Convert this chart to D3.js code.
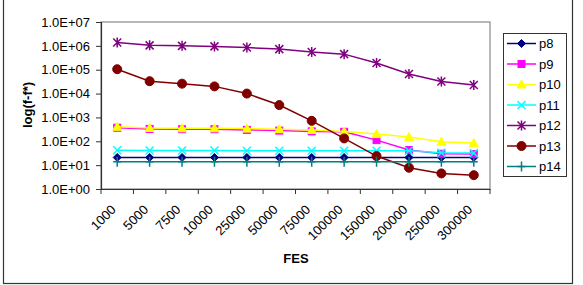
<!DOCTYPE html>
<html>
<head>
<meta charset="utf-8">
<script src="https://cdn.jsdelivr.net/npm/d3@7"></script>
<style>
  body { margin: 0; background: #fff; }
  text { font-family: "Liberation Sans", Arial, sans-serif; }
</style>
</head>
<body>
<svg id="chart" width="583" height="285"></svg>
<script>
const fesLabels = ["1000", "5000", "7500", "10000", "25000", "50000", "75000",
  "100000", "150000", "200000", "250000", "300000"];

const p8 = [21, 21, 21, 21, 21, 21, 21, 21, 21, 21, 21, 21];
const p9 = [370, 330, 320, 320, 300, 280, 260, 250, 112, 43, 30, 29];
const p10 = [405, 360, 350, 350, 340, 320, 300, 260, 200, 150, 95, 84];
const p11 = [42, 41, 41, 41, 40, 40, 40, 40, 40, 40, 33, 32];
const p12 = [1380000, 1050000, 1000000, 950000, 850000, 730000, 550000, 450000, 190000, 66000, 32000, 23000];
const p13 = [105000, 33000, 26000, 20000, 10000, 3300, 720, 132, 24, 7.8, 4.5, 3.8];
const p14 = [14, 14, 14, 14, 14, 14, 14, 14, 14, 14, 14, 14];

const yTicks = [1, 10, 100, 1000, 1e4, 1e5, 1e6, 1e7];

const series = [
  { name: "p8", values: p8, color: "#000080", marker: "diamond" },
  { name: "p9", values: p9, color: "#ff00ff", marker: "square" },
  { name: "p10", values: p10, color: "#ffff00", marker: "triangle" },
  { name: "p11", values: p11, color: "#00ffff", marker: "x" },
  { name: "p12", values: p12, color: "#800080", marker: "star" },
  { name: "p13", values: p13, color: "#800000", marker: "circle" },
  { name: "p14", values: p14, color: "#008080", marker: "plus" }
];

const svg = d3.select("#chart");
const plot = { left: 101, right: 490, top: 22, bottom: 189 };

// outer frame (top edge is cut off in the picture)
svg.append("rect")
  .attr("x", 3.5).attr("y", -3)
  .attr("width", 569).attr("height", 286.5)
  .attr("fill", "none").attr("stroke", "#333").attr("stroke-width", 1.2);

const x = d3.scaleBand()
  .domain(fesLabels)
  .range([plot.left, plot.right]);

const y = d3.scaleLog()
  .domain([1, 1e7])
  .range([plot.bottom, plot.top]);

// plot area border
svg.append("rect")
  .attr("x", plot.left).attr("y", plot.top)
  .attr("width", plot.right - plot.left).attr("height", plot.bottom - plot.top)
  .attr("fill", "#fff").attr("stroke", "#888").attr("stroke-width", 1.2);

// y axis
const yAxis = svg.append("g")
  .attr("transform", `translate(${plot.left},0)`)
  .call(d3.axisLeft(y).tickValues(yTicks).tickSize(5).tickPadding(6)
    .tickFormat(d => "1.0E+0" + Math.round(Math.log10(d))));
yAxis.select(".domain").attr("stroke", "#333").attr("stroke-width", 1.2);
yAxis.selectAll(".tick line").attr("stroke", "#333");
yAxis.selectAll("text").attr("font-size", 13).attr("fill", "#000")
  .style("font-family", "'Liberation Sans', Arial, sans-serif");

// x axis, ticks between categories
const xAxis = svg.append("g")
  .attr("transform", `translate(0,${plot.bottom})`)
  .call(d3.axisBottom(x).tickSize(0).tickPadding(0));
xAxis.select(".domain").attr("stroke", "#333").attr("stroke-width", 1.2);
xAxis.selectAll(".tick text")
  .attr("font-size", 13).attr("fill", "#000")
  .style("font-family", "'Liberation Sans', Arial, sans-serif")
  .attr("text-anchor", "end")
  .attr("transform", "translate(-7,15) rotate(-45)")
  .attr("dy", "0.7em").attr("dx", "0");

svg.append("g").selectAll("line")
  .data(d3.range(fesLabels.length + 1))
  .join("line")
  .attr("x1", i => plot.left + i * x.step())
  .attr("x2", i => plot.left + i * x.step())
  .attr("y1", plot.bottom).attr("y2", plot.bottom + 5)
  .attr("stroke", "#333");

// axis titles
svg.append("text")
  .attr("transform", `translate(32,105) rotate(-90)`)
  .attr("text-anchor", "middle")
  .attr("font-size", 13).attr("font-weight", "bold")
  .text("log(f-f*)");

svg.append("text")
  .attr("x", 296).attr("y", 263)
  .attr("text-anchor", "middle")
  .attr("font-size", 13).attr("font-weight", "bold")
  .text("FES");

function drawMarker(g, type, color) {
  if (type === "diamond") {
    g.append("path").attr("d", "M0,-4L4,0L0,4L-4,0Z").attr("fill", color).attr("stroke", color);
  } else if (type === "square") {
    g.append("rect").attr("x", -3.5).attr("y", -3.5).attr("width", 7).attr("height", 7)
      .attr("fill", color).attr("stroke", color);
  } else if (type === "triangle") {
    g.append("path").attr("d", "M0,-4.5L4.5,3.5L-4.5,3.5Z").attr("fill", color).attr("stroke", color);
  } else if (type === "x") {
    g.append("path").attr("d", "M-4,-4L4,4M-4,4L4,-4").attr("stroke", color).attr("stroke-width", 1.5);
  } else if (type === "star") {
    g.append("path").attr("d", "M-4,-4L4,4M-4,4L4,-4M0,-5L0,5").attr("stroke", color).attr("stroke-width", 1.5);
  } else if (type === "circle") {
    g.append("circle").attr("r", 4.5).attr("fill", color).attr("stroke", color);
  } else if (type === "plus") {
    g.append("path").attr("d", "M-4,0L4,0M0,-5L0,5").attr("stroke", color).attr("stroke-width", 1.5);
  }
}

const line = d3.line()
  .x((d, i) => x(fesLabels[i]) + x.bandwidth() / 2)
  .y(d => y(d));

series.forEach(s => {
  const g = svg.append("g");
  g.append("path")
    .attr("d", line(s.values))
    .attr("fill", "none")
    .attr("stroke", s.color)
    .attr("stroke-width", 1.5);
  s.values.forEach((v, i) => {
    const m = g.append("g")
      .attr("transform", `translate(${x(fesLabels[i]) + x.bandwidth() / 2},${y(v)})`);
    drawMarker(m, s.marker, s.color);
  });
});

// legend
const legend = svg.append("g");
legend.append("rect")
  .attr("x", 503.5).attr("y", 33.5)
  .attr("width", 63).attr("height", 143)
  .attr("fill", "#fff").attr("stroke", "#333");

series.forEach((s, i) => {
  const ly = 43.5 + i * 20.5;
  const row = legend.append("g");
  row.append("line")
    .attr("x1", 507).attr("x2", 536).attr("y1", ly).attr("y2", ly)
    .attr("stroke", s.color).attr("stroke-width", 1.5);
  const m = row.append("g").attr("transform", `translate(521.5,${ly})`);
  drawMarker(m, s.marker, s.color);
  row.append("text")
    .attr("x", 539).attr("y", ly).attr("dy", "0.35em")
    .attr("font-size", 13)
    .text(s.name);
});
</script>
</body>
</html>
